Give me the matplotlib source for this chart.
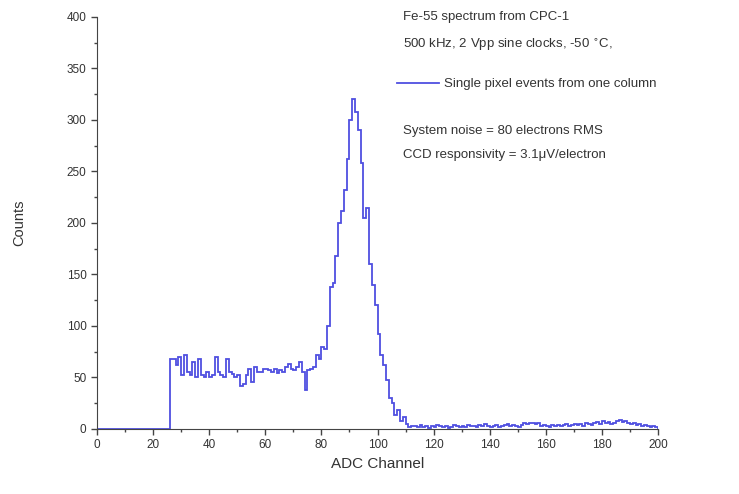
import numpy as np
import matplotlib
matplotlib.use("Agg")
import matplotlib.pyplot as plt
from matplotlib.ticker import MultipleLocator

plt.rcParams['font.family'] = ['Liberation Sans', 'DejaVu Sans']

# Fe-55 spectrum, counts per ADC channel (channels 0..199)
counts_low = [0] * 26
counts_flat = [68, 68, 62, 70, 52, 72, 55, 52, 65, 50,
               68, 52, 50, 55, 50, 52, 70, 55, 52, 50,
               68, 55, 53, 50, 52, 42, 44, 52, 58, 46,
               60, 55, 55, 58, 58, 57, 55, 58, 54, 57,
               55, 60, 63, 58, 57, 60, 65, 55, 38, 57,
               58, 60, 72, 68]                      # channels 26..79
counts_peak = [80, 78, 100, 138, 142, 168, 200, 212, 232, 262,
               300, 320, 308, 290, 258, 205, 215, 160, 140, 120,
               92, 72, 62, 48, 30, 25, 14, 18, 8, 12,
               5, 2, 3]                             # channels 80..112
counts_tail = [3, 2, 4, 2, 3, 1, 3, 2, 4, 3, 2, 3, 1, 2, 4, 3, 2, 3,
               2, 4, 3, 3, 2, 4, 3, 5, 3, 2, 3, 4, 2, 3, 4, 5, 3, 4, 3, 2,
               4, 6, 5, 6, 6, 5, 6, 3, 4, 3, 2, 4, 3, 4, 3, 4, 5, 3, 4, 5,
               4, 5, 3, 6, 5, 4, 6, 7, 5, 8, 6, 7, 5, 6, 8, 9, 7, 8, 6, 5,
               6, 4, 5, 3, 4, 3, 2, 3, 2]           # channels 113..199
counts = np.array(counts_low + counts_flat + counts_peak + counts_tail)
edges = np.arange(len(counts) + 1)

info_lines = ["Fe-55 spectrum from CPC-1",
              "500 kHz, 2 Vpp sine clocks, -50 $^{\\circ}$C,"]
noise_lines = ["System noise = 80 electrons RMS",
               "CCD responsivity = 3.1\u03bcV/electron"]

fig = plt.figure(figsize=(7.39, 4.94), dpi=100)
ax = fig.add_axes([0.1313, 0.1316, 0.7591, 0.834])

ax.stairs(counts, edges, color="#4f4fe0", linewidth=1.3,
          label="Single pixel events from one column")

ax.set_xlim(0, 200)
ax.set_ylim(0, 400)
ax.xaxis.set_major_locator(MultipleLocator(20))
ax.xaxis.set_minor_locator(MultipleLocator(10))
ax.yaxis.set_major_locator(MultipleLocator(50))
ax.yaxis.set_minor_locator(MultipleLocator(25))
ax.tick_params(which="major", direction="out", length=4, width=1,
               colors="#444444", labelsize=8.5, labelcolor="#333333")
ax.tick_params(which="minor", direction="out", length=2.5, width=1,
               colors="#444444")
for side in ["top", "right"]:
    ax.spines[side].set_visible(False)
for side in ["left", "bottom"]:
    ax.spines[side].set_color("#444444")

ax.set_xlabel("ADC Channel", fontsize=11, color="#333333")
ax.set_ylabel("Counts", fontsize=10.5, color="#333333", labelpad=29)

tx = 0.545
ax.text(tx, 1.0, info_lines[0], transform=ax.transAxes, va="center",
        fontsize=9.5, color="#333333")
ax.text(tx, 0.932, info_lines[1], transform=ax.transAxes, va="center",
        fontsize=9.5, color="#333333")
ax.text(tx, 0.723, noise_lines[0], transform=ax.transAxes, va="center",
        fontsize=9.5, color="#333333")
ax.text(tx, 0.665, noise_lines[1], transform=ax.transAxes, va="center",
        fontsize=9.5, color="#333333")

leg = ax.legend(loc="center left", bbox_to_anchor=(0.525, 0.837),
                frameon=False, fontsize=9.5, handlelength=3.2,
                handletextpad=0.4, borderaxespad=0)
for t in leg.get_texts():
    t.set_color("#333333")

fig.savefig("out.png", dpi=100)
